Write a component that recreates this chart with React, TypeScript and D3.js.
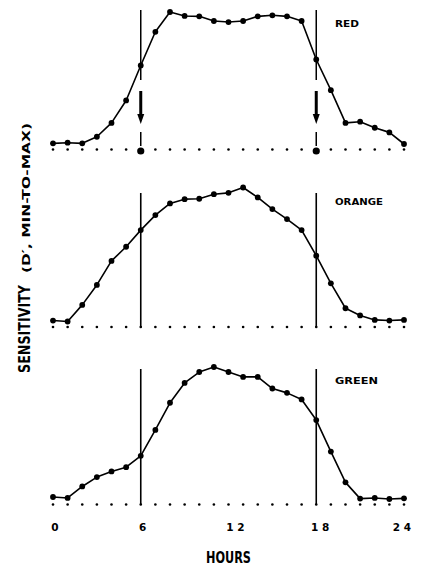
import React from "react";
import * as d3 from "d3";

const hours = [0, 1, 2, 3, 4, 5, 6, 7, 8, 9, 10, 11, 12, 13, 14, 15, 16, 17, 18, 19, 20, 21, 22, 23, 24];
const redValues = [0.005, 0.01, 0.005, 0.055, 0.16, 0.33, 0.595, 0.85, 1.0, 0.97, 0.967, 0.932, 0.924, 0.932, 0.967, 0.975, 0.967, 0.932, 0.64, 0.408, 0.16, 0.169, 0.123, 0.088, 0.0];
const orangeValues = [0.007, 0.0, 0.124, 0.273, 0.452, 0.558, 0.682, 0.794, 0.881, 0.913, 0.916, 0.95, 0.96, 1.0, 0.926, 0.839, 0.764, 0.682, 0.491, 0.285, 0.099, 0.045, 0.012, 0.007, 0.012];
const greenValues = [0.015, 0.008, 0.095, 0.166, 0.209, 0.241, 0.327, 0.523, 0.729, 0.879, 0.962, 1.0, 0.962, 0.925, 0.925, 0.837, 0.804, 0.754, 0.598, 0.359, 0.126, 0.003, 0.008, 0.0, 0.005];
const tickHours = [0, 6, 12, 18, 24];
const tickLabels = ["0", "6", "1 2", "1 8", "2 4"];
const markerHours = [6, 18];
const panelNames = ["RED", "ORANGE", "GREEN"];

const W = 421;
const H = 567;
const FONT = "'DejaVu Sans', sans-serif";
const COND = "'DejaVu Sans Condensed', 'DejaVu Sans', sans-serif";

const x = d3.scaleLinear().domain([0, 24]).range([53, 404]);
const tickDx = [2, 2, 7, 4, -2];

const panels = [
  { name: panelNames[0], values: redValues, top: 12, bottom: 144, lineTop: 10, arrows: true },
  { name: panelNames[1], values: orangeValues, top: 187.5, bottom: 321.5, lineTop: 193, arrows: false },
  { name: panelNames[2], values: greenValues, top: 367, bottom: 499, lineTop: 369, arrows: false },
];

function Panel({ p }: { p: typeof panels[number] }) {
  const y = d3.scaleLinear().domain([0, 1]).range([p.bottom, p.top]);
  const base = y(0) + 5.5;
  const line = d3
    .line<number>()
    .x((_, i) => x(hours[i]))
    .y((d) => y(d));
  const labelY = p.top + (p.arrows ? 15 : 17);
  return (
    <g>
      {hours.map((h) =>
        p.arrows && markerHours.includes(h) ? null : (
          <circle key={"b" + h} cx={x(h)} cy={base} r={1.3} fill="#000" />
        )
      )}
      {markerHours.map((h) =>
        p.arrows ? (
          <g key={"m" + h}>
            <line x1={x(h)} x2={x(h)} y1={p.lineTop} y2={80} stroke="#000" strokeWidth={1.5} />
            <line x1={x(h)} x2={x(h)} y1={91} y2={114} stroke="#000" strokeWidth={3} />
            <path
              d={`M${x(h) - 3.5},${114} L${x(h) + 3.5},${114} L${x(h)},${124} Z`}
              fill="#000"
            />
            <line x1={x(h)} x2={x(h)} y1={132} y2={146} stroke="#000" strokeWidth={1.5} />
            <circle cx={x(h)} cy={base + 1.5} r={3.6} fill="#000" />
          </g>
        ) : (
          <line key={"m" + h} x1={x(h)} x2={x(h)} y1={p.lineTop} y2={base} stroke="#000" strokeWidth={1.6} />
        )
      )}
      <path d={line(p.values) || ""} fill="none" stroke="#000" strokeWidth={1.6} strokeLinejoin="round" />
      {p.values.map((v, i) => (
        <circle key={"p" + i} cx={x(hours[i])} cy={y(v)} r={2.9} fill="#000" />
      ))}
      <text
        x={p.name === "RED" ? 335 : 335}
        y={labelY}
        fontFamily={FONT}
        fontWeight="bold"
        fontSize={9.5}
        textLength={p.name === "RED" ? 24 : p.name === "ORANGE" ? 48 : 43}
        lengthAdjust="spacingAndGlyphs"
      >
        {p.name}
      </text>
    </g>
  );
}

export default function App() {
  return (
    <svg
      width={W}
      height={H}
      viewBox={`0 0 ${W} ${H}`}
      style={{ position: "absolute", left: 0, top: 0, background: "#fff" }}
    >
      <rect x={0} y={0} width={W} height={H} fill="#fff" />
      {panels.map((p) => (
        <Panel key={p.name} p={p} />
      ))}
      {tickHours.map((h, i) => (
        <text
          key={"t" + h}
          x={x(h) + tickDx[i]}
          y={531}
          textAnchor="middle"
          fontFamily={FONT}
          fontWeight="bold"
          fontSize={10.5}
        >
          {tickLabels[i]}
        </text>
      ))}
      <text
        x={x(12)}
        y={563}
        textAnchor="middle"
        fontFamily={COND}
        fontWeight="bold"
        fontSize={15}
        textLength={45}
        lengthAdjust="spacingAndGlyphs"
      >
        HOURS
      </text>
      <text
        transform="translate(30,373) rotate(-90)"
        textAnchor="start"
        fontFamily={COND}
        fontWeight="bold"
        fontSize={16}
        textLength={88}
        lengthAdjust="spacingAndGlyphs"
      >
        SENSITIVITY
      </text>
      <text
        transform="translate(30,273) rotate(-90)"
        textAnchor="start"
        fontFamily={FONT}
        fontWeight="bold"
        fontSize={11}
        textLength={150}
        lengthAdjust="spacingAndGlyphs"
      >
        (D′, MIN-TO-MAX)
      </text>
    </svg>
  );
}
